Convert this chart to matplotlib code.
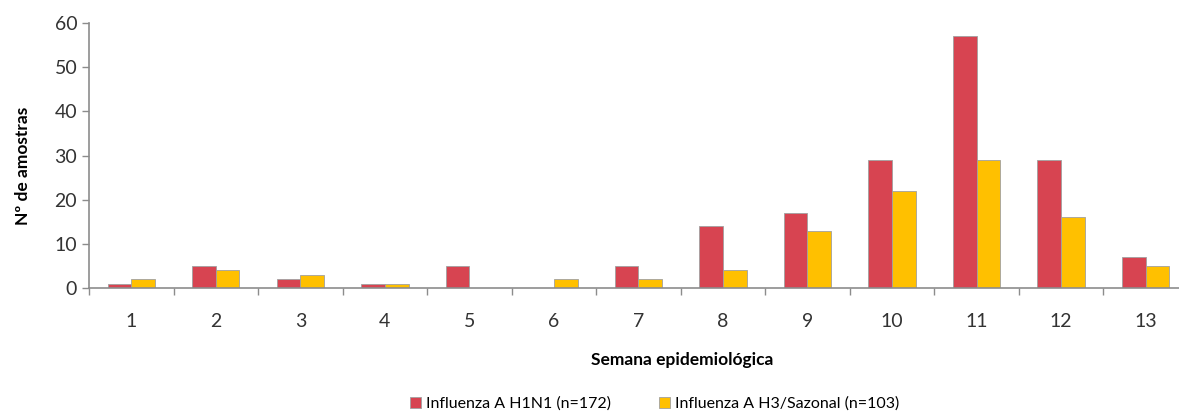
import numpy as np
import matplotlib.pyplot as plt

plt.rcParams['font.family'] = ['Lato', 'DejaVu Sans']

weeks = ['1', '2', '3', '4', '5', '6', '7', '8', '9', '10', '11', '12', '13']
h1n1 = [1, 5, 2, 1, 5, 0, 5, 14, 17, 29, 57, 29, 7]
h3_sazonal = [2, 4, 3, 1, 0, 2, 2, 4, 13, 22, 29, 16, 5]

RED = '#D74451'
YELLOW = '#FFC000'
GRID = '#8C8C8C'

fig = plt.figure(figsize=(11.79, 4.12), dpi=100)
ax = fig.add_axes([0.0755, 0.301, 0.932, 0.643])

x = np.arange(len(weeks))
w = 0.28
ax.bar(x - w / 2, h1n1, w, color=RED, edgecolor='#A0A0A0', linewidth=0.6,
       label='Influenza A H1N1 (n=172)')
ax.bar(x + w / 2, h3_sazonal, w, color=YELLOW, edgecolor='#A0A0A0', linewidth=0.6,
       label='Influenza A H3/Sazonal (n=103)')

ax.set_xlim(-0.5, len(weeks) - 0.5)
ax.set_ylim(0, 60)
ax.set_yticks(range(0, 61, 10))

# category labels in the middle, ticks on the boundaries
ax.set_xticks(x)
ax.set_xticklabels(weeks)
ax.set_xticks(np.arange(-0.5, len(weeks)), minor=True)
ax.tick_params(axis='x', which='major', length=0, pad=18, labelsize=14, labelcolor='#333333')
ax.tick_params(axis='x', which='minor', length=5, color=GRID, width=1)
ax.tick_params(axis='y', length=5, color=GRID, width=1, labelsize=14, labelcolor='#333333')

for side in ['top', 'right']:
    ax.spines[side].set_visible(False)
for side in ['left', 'bottom']:
    ax.spines[side].set_color(GRID)
    ax.spines[side].set_linewidth(1.2)

ax.set_xlabel('Semana epidemiológica', fontsize=12.5, fontweight='bold')
ax.xaxis.set_label_coords(0.54, -0.24)
ax.set_ylabel('Nº de amostras', fontsize=12.5, fontweight='bold')
ax.yaxis.set_label_coords(-0.053, 0.46)

fig.legend(loc='center', bbox_to_anchor=(0.555, 0.02), ncol=2, frameon=False,
           fontsize=11.5, handlelength=0.7, handleheight=0.7, handletextpad=0.3,
           columnspacing=3.0)

fig.savefig('out.png', dpi=100)
